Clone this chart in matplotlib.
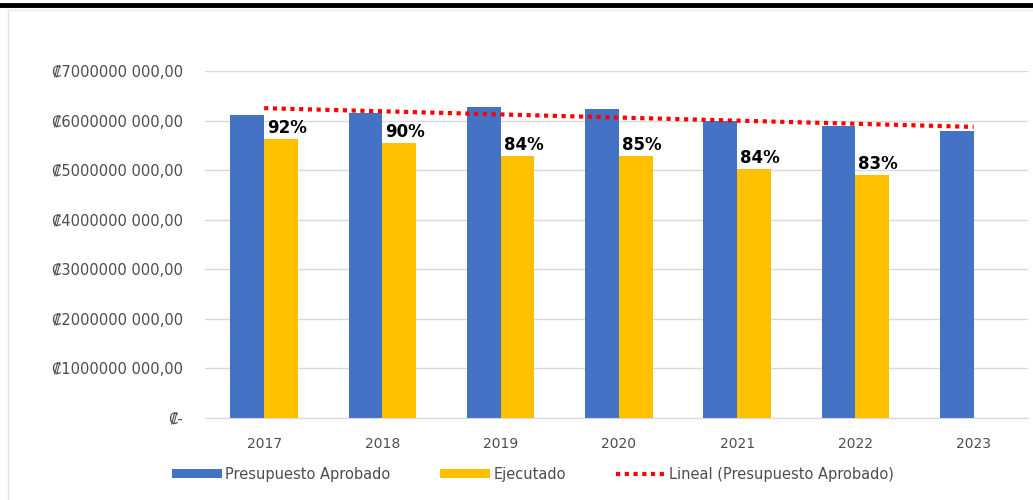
import matplotlib
matplotlib.use("Agg")
import matplotlib.pyplot as plt
from matplotlib.lines import Line2D
from matplotlib.ticker import FuncFormatter
import numpy as np

plt.rcParams['font.family'] = ['DejaVu Sans']

# Data
years = ['2017', '2018', '2019', '2020', '2021', '2022', '2023']
aprobado = [6.11e9, 6.15e9, 6.27e9, 6.23e9, 5.99e9, 5.89e9, 5.79e9]
ejecutado = [5.62e9, 5.54e9, 5.28e9, 5.29e9, 5.02e9, 4.90e9, None]
pct_labels = ['92%', '90%', '84%', '85%', '84%', '83%', None]

blue = '#4472C4'
gold = '#FFC000'
grey = '#4D4D4D'

fig = plt.figure(figsize=(10.33, 5.0), dpi=100)
ax = fig.add_axes([205 / 1033, 82 / 500, 823 / 1033, 347 / 500])

x = np.arange(len(years))
w = 0.285
h_blue = ax.bar(x - w / 2, aprobado, w, color=blue, label='Presupuesto Aprobado', zorder=2)
ej_x = [xi + w / 2 for xi, v in zip(x, ejecutado) if v is not None]
ej_v = [v for v in ejecutado if v is not None]
h_gold = ax.bar(ej_x, ej_v, w, color=gold, label='Ejecutado', zorder=2)

# percentage labels above executed bars
for xi, v, lab in zip(ej_x, ej_v, pct_labels):
    ax.text(xi + 0.05, v + 0.04e9, lab, ha='center', va='bottom',
            fontsize=12, fontweight='bold', color='black', zorder=3)

# linear trendline of approved budget
coef = np.polyfit(x, aprobado, 1)
h_red, = ax.plot(x, np.polyval(coef, x), color='#FF0000', linewidth=3,
                 linestyle=(0, (1, 1.1)), label='Lineal (Presupuesto Aprobado)', zorder=3)

ax.set_xlim(-0.5, 6.46)
ax.set_ylim(0, 7e9)
ax.set_yticks(np.arange(0, 7.01e9, 1e9))


def colones(v, pos):
    if v == 0:
        return '\u20a1-'
    return '\u20a1%d 000,00' % (v // 1e3)


ax.yaxis.set_major_formatter(FuncFormatter(colones))
ax.set_xticks(x)
ax.set_xticklabels(years)
ax.tick_params(axis='y', length=0, pad=16, labelsize=10.5, labelcolor=grey)
ax.tick_params(axis='x', length=0, pad=14, labelsize=10, labelcolor=grey)
ax.grid(axis='y', color='#D9D9D9', linewidth=1, zorder=0)
for s in ['top', 'right', 'left']:
    ax.spines[s].set_visible(False)
ax.spines['bottom'].set_color('#D9D9D9')

fig.legend(handles=[h_blue, h_gold, h_red], loc='center',
           bbox_to_anchor=(533 / 1033, 1 - 474 / 500), ncol=3,
           frameon=False, fontsize=10.5, labelcolor=grey, handlelength=3.4,
           handleheight=0.6, handletextpad=0.25, columnspacing=3.4)

# outer frame and top black rule
fig.add_artist(Line2D([8 / 1033, 8 / 1033], [0, 1 - 10 / 500], color='#E3E3E3',
                      linewidth=1, transform=fig.transFigure))
fig.add_artist(Line2D([8 / 1033, 1], [1 - 10 / 500, 1 - 10 / 500], color='#EDEDED',
                      linewidth=1, transform=fig.transFigure))
fig.add_artist(Line2D([0, 1], [1 - 5 / 500, 1 - 5 / 500], color='black',
                      linewidth=3.5, transform=fig.transFigure))

fig.savefig('out.png', dpi=100)
